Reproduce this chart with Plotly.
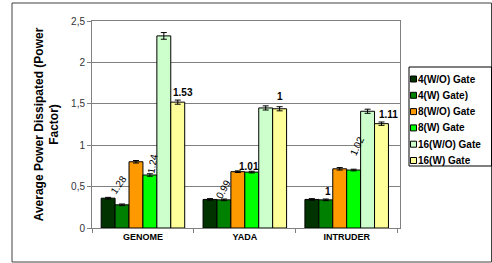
import plotly.graph_objects as go

categories = ["GENOME", "YADA", "INTRUDER"]
series_names = ["4(W/O) Gate", "4(W) Gate)", "8(W/O) Gate", "8(W) Gate", "16(W/O) Gate", "16(W) Gate"]
v_4wo = [0.36, 0.345, 0.345]
v_4w = [0.28, 0.34, 0.34]
v_8wo = [0.80, 0.68, 0.715]
v_8w = [0.64, 0.675, 0.70]
v_16wo = [2.32, 1.45, 1.41]
v_16w = [1.52, 1.44, 1.26]
err_4wo = [0.01, 0.01, 0.01]
err_4w = [0.01, 0.01, 0.01]
err_8wo = [0.015, 0.01, 0.015]
err_8w = [0.015, 0.01, 0.01]
err_16wo = [0.04, 0.025, 0.025]
err_16w = [0.025, 0.025, 0.02]
colors = ["#003300", "#008000", "#FF9900", "#00FF00", "#CCFFCC", "#FFFF99"]

# ratio labels (W vs W/O), attached to the (W) series
label_text = ["1.28", "1.24", "1.53", "0.99", "1.01", "1", "1", "1.02", "1.11"]
label_cat = [0, 0, 0, 1, 1, 1, 2, 2, 2]
label_series = [1, 3, 5, 1, 3, 5, 1, 3, 5]
label_angle = [-55, -80, 0, -60, 0, 0, 0, -65, 0]

values = [v_4wo, v_4w, v_8wo, v_8w, v_16wo, v_16w]
errors = [err_4wo, err_4w, err_8wo, err_8w, err_16wo, err_16w]

W, H = 492, 263
ML, MR, MT, MB = 92, 92, 21, 35
PW, PH = W - ML - MR, H - MT - MB


def px(xp):
    return (xp - ML) / PW


def py(yp):
    return (H - MB - yp) / PH


FONT = "Liberation Sans, Arial, sans-serif"
fig = go.Figure()
for name, vals, errs, col in zip(series_names, values, errors, colors):
    fig.add_trace(go.Bar(
        name=name, x=categories, y=vals,
        marker=dict(color=col, line=dict(color="#000000", width=1)),
        error_y=dict(type="data", array=errs, color="#000000", thickness=1, width=3),
    ))

bargap = 0.18
n = len(series_names)
bw = (1 - bargap) / n
# pixel shifts for label placement (style)
xs = [-3, 3, 5, -1, -3, 0, 2, 3, 7]
ys = [19, 10, 0, 10, -3, 3, 0, 23, 0]
for t, c, s, a, dx, dy in zip(label_text, label_cat, label_series, label_angle, xs, ys):
    xc = c - (1 - bargap) / 2 + bw * (s + 0.5)
    yv = values[s][c] + errors[s][c]
    fig.add_annotation(x=xc, y=yv, xref="x", yref="y", text=t, textangle=a,
                       showarrow=False, xshift=dx, yshift=dy,
                       yanchor="bottom" if a == 0 else "middle",
                       font=dict(family=FONT, size=10, color="#000000",
                                 weight="bold" if a == 0 else "normal"))

# outer frame
fig.add_shape(type="rect", xref="paper", yref="paper",
              x0=px(12), x1=px(491.5), y0=py(262), y1=py(3),
              line=dict(color="#404040", width=1), fillcolor="rgba(0,0,0,0)", layer="below")

# legend box (drawn by hand for compact Excel-like layout)
fig.add_shape(type="rect", xref="paper", yref="paper",
              x0=px(409), x1=px(491.5), y0=py(166), y1=py(67),
              line=dict(color="#000000", width=1), fillcolor="white")
leg_top, leg_step = 79, 16.3
for i, (name, col) in enumerate(zip(series_names, colors)):
    yc = leg_top + i * leg_step
    fig.add_shape(type="rect", xref="paper", yref="paper",
                  x0=px(410.5), x1=px(416.5), y0=py(yc + 3), y1=py(yc - 3),
                  line=dict(color="#000000", width=1), fillcolor=col)
    fig.add_annotation(x=px(416), y=py(yc), xref="paper", yref="paper", text=name,
                       showarrow=False, xanchor="left", yanchor="middle",
                       font=dict(family=FONT, size=10, color="#000000", weight="bold"))

fig.update_layout(
    width=W, height=H,
    margin=dict(l=ML, r=MR, t=MT, b=MB, autoexpand=False),
    paper_bgcolor="white", plot_bgcolor="white",
    barmode="group", bargap=bargap, bargroupgap=0,
    separators=", ",
    showlegend=False,
    font=dict(family=FONT, color="#000000"),
    xaxis=dict(showline=True, linecolor="#808080", mirror=True, ticks="outside",
               tickson="boundaries", ticklen=4, tickcolor="#808080",
               tickfont=dict(family=FONT, size=9, color="#000000", weight="bold")),
    yaxis=dict(range=[0, 2.5], dtick=0.5, showgrid=True, gridcolor="#808080", gridwidth=1,
               showline=True, linecolor="#808080", mirror=True, ticks="outside", ticklen=4,
               tickcolor="#808080", zeroline=False,
               tickfont=dict(family=FONT, size=10, color="#333333"),
               title=dict(text="Average Power Dissipated (Power<br>Factor)", standoff=9,
                          font=dict(family=FONT, size=12, color="#000000", weight="bold"))),
)
fig.write_html("out.html", config={"displayModeBar": False},
               post_script="document.body.style.margin='0px';")
